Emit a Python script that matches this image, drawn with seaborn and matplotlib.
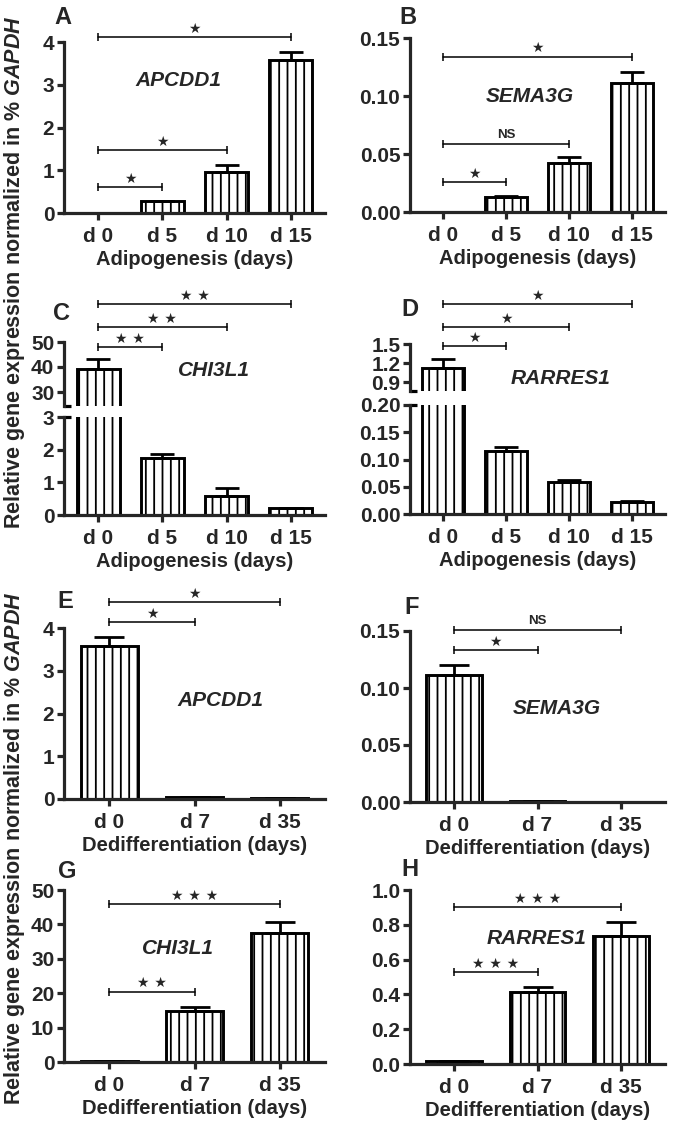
import numpy as np
import matplotlib
matplotlib.use("Agg")
import matplotlib.pyplot as plt
from matplotlib.ticker import FormatStrFormatter
import seaborn as sns

# ---- data ----
adipo_days = ["d 0", "d 5", "d 10", "d 15"]
dediff_days = ["d 0", "d 7", "d 35"]

apcdd1_adipo = [0.0, 0.27, 0.96, 3.58]
apcdd1_adipo_err = [0.0, 0.02, 0.16, 0.19]
sema3g_adipo = [0.0, 0.013, 0.042, 0.111]
sema3g_adipo_err = [0.0, 0.001, 0.005, 0.010]
chi3l1_adipo = [39.2, 1.75, 0.58, 0.20]
chi3l1_adipo_err = [4.0, 0.12, 0.24, 0.02]
rarres1_adipo = [1.12, 0.116, 0.059, 0.022]
rarres1_adipo_err = [0.14, 0.007, 0.003, 0.002]

apcdd1_dediff = [3.57, 0.04, 0.03]
apcdd1_dediff_err = [0.21, 0.0, 0.0]
sema3g_dediff = [0.111, 0.0008, 0.0003]
sema3g_dediff_err = [0.009, 0.0, 0.0]
chi3l1_dediff = [0.3, 14.9, 37.6]
chi3l1_dediff_err = [0.0, 1.1, 3.0]
rarres1_dediff = [0.02, 0.414, 0.736]
rarres1_dediff_err = [0.0, 0.027, 0.08]

# significance brackets: (from, to, height, label)
sig_a = [(0, 1, 0.6, "★"), (0, 2, 1.47, "★"), (0, 3, 4.12, "★")]
sig_b = [(0, 1, 0.026, "★"), (0, 2, 0.059, "NS"), (0, 3, 0.134, "★")]
sig_c = [(0, 1, 48, "★ ★"), (0, 2, 56, "★ ★"), (0, 3, 65.2, "★ ★")]
sig_d = [(0, 1, 1.47, "★"), (0, 2, 1.77, "★"), (0, 3, 2.13, "★")]
sig_e = [(0, 1, 4.14, "★"), (0, 2, 4.61, "★")]
sig_f = [(0, 1, 0.133, "★"), (0, 2, 0.151, "NS")]
sig_g = [(0, 1, 20.4, "★ ★"), (0, 2, 45.8, "★ ★ ★")]
sig_h = [(0, 1, 0.529, "★ ★ ★"), (0, 2, 0.902, "★ ★ ★")]

sns.set_style("ticks")
plt.rcParams["font.family"] = ["Liberation Sans", "DejaVu Sans"]
plt.rcParams["font.weight"] = "bold"
plt.rcParams["axes.labelweight"] = "bold"
plt.rcParams["mathtext.fontset"] = "custom"
plt.rcParams["mathtext.it"] = "Liberation Sans:italic:bold"
plt.rcParams["mathtext.rm"] = "Liberation Sans:bold"
plt.rcParams["hatch.linewidth"] = 1.3
plt.rcParams["axes.linewidth"] = 2.3

W, H = 680, 1127
fig = plt.figure(figsize=(W / 100, H / 100), dpi=100)


def rect(x0, x1, yt, yb):
    return [x0 / W, 1 - yb / H, (x1 - x0) / W, (yb - yt) / H]


def bar_panel(ax, days, vals, errs, capsize):
    sns.barplot(x=days, y=vals, ax=ax, color="white", edgecolor="black",
                linewidth=2.1, width=0.67, hatch="||", errorbar=None, saturation=1)
    ax.errorbar(range(len(days)), vals, yerr=[np.zeros(len(errs)), errs], fmt="none",
                ecolor="black", elinewidth=2.0, capsize=capsize, capthick=2.0)
    ax.set_xlim(-0.53, len(days) - 0.47)
    sns.despine(ax=ax)
    ax.tick_params(axis="both", labelsize=15, width=2.3, length=5)
    ax.tick_params(axis="y", pad=2)
    ax.tick_params(axis="x", pad=5)


def brackets(ax, sig):
    for i, j, y, lab in sig:
        ax.plot([i, j], [y, y], color="black", lw=1.1, clip_on=False)
        ax.plot([i, j], [y, y], ls="none", marker="|", ms=6, mew=1.1,
                color="black", clip_on=False)
        if lab == "NS":
            ax.annotate(lab, xy=((i + j) / 2, y), xytext=(0, 2), textcoords="offset points",
                        ha="center", va="bottom", fontsize=9.5, fontweight="bold",
                        annotation_clip=False)
        else:
            ax.annotate(lab, xy=((i + j) / 2, y), xytext=(0, 1), textcoords="offset points",
                        ha="center", va="bottom", fontsize=10, family="DejaVu Sans",
                        annotation_clip=False)


def break_caps(ax_top, ax_bot):
    ax_top.plot([0, 0.028], [0, 0], transform=ax_top.transAxes, color="black",
                lw=2.3, clip_on=False, solid_capstyle="butt")
    ax_bot.plot([0, 0.028], [1, 1], transform=ax_bot.transAxes, color="black",
                lw=2.3, clip_on=False, solid_capstyle="butt")


def top_part(ax):
    ax.spines["bottom"].set_visible(False)
    ax.tick_params(axis="x", bottom=False, labelbottom=False)
    ax.set_xlabel("")


# ---- A ----
ax = fig.add_axes(rect(64, 325, 42, 213))
bar_panel(ax, adipo_days, apcdd1_adipo, apcdd1_adipo_err, 8.3)
ax.set_ylim(0, 4)
ax.set_yticks([0, 1, 2, 3, 4])
ax.set_xlabel("Adipogenesis (days)", fontsize=14.5, labelpad=3)
brackets(ax, sig_a)

# ---- B ----
ax = fig.add_axes(rect(410, 665, 38, 212))
bar_panel(ax, adipo_days, sema3g_adipo, sema3g_adipo_err, 8.3)
ax.set_ylim(0, 0.15)
ax.set_yticks([0, 0.05, 0.10, 0.15])
ax.yaxis.set_major_formatter(FormatStrFormatter("%.2f"))
ax.set_xlabel("Adipogenesis (days)", fontsize=14.5, labelpad=3)
brackets(ax, sig_b)

# ---- C (broken axis) ----
ax_t = fig.add_axes(rect(64, 325, 342, 406))
bar_panel(ax_t, adipo_days, chi3l1_adipo, chi3l1_adipo_err, 8.3)
ax_t.set_ylim(24.4, 50)
ax_t.set_yticks([30, 40, 50])
top_part(ax_t)
brackets(ax_t, sig_c)
ax_b = fig.add_axes(rect(64, 325, 417, 515))
bar_panel(ax_b, adipo_days, chi3l1_adipo, chi3l1_adipo_err, 8.3)
ax_b.set_ylim(0, 3)
ax_b.set_yticks([0, 1, 2, 3])
ax_b.set_xlabel("Adipogenesis (days)", fontsize=14.5, labelpad=3)
break_caps(ax_t, ax_b)

# ---- D (broken axis) ----
ax_t = fig.add_axes(rect(410, 665, 344, 391))
bar_panel(ax_t, adipo_days, rarres1_adipo, rarres1_adipo_err, 8.3)
ax_t.set_ylim(0.76, 1.5)
ax_t.set_yticks([0.9, 1.2, 1.5])
ax_t.yaxis.set_major_formatter(FormatStrFormatter("%.1f"))
top_part(ax_t)
brackets(ax_t, sig_d)
ax_b = fig.add_axes(rect(410, 665, 405, 514))
bar_panel(ax_b, adipo_days, rarres1_adipo, rarres1_adipo_err, 8.3)
ax_b.set_ylim(0, 0.2)
ax_b.set_yticks([0, 0.05, 0.10, 0.15, 0.20])
ax_b.yaxis.set_major_formatter(FormatStrFormatter("%.2f"))
ax_b.set_xlabel("Adipogenesis (days)", fontsize=14.5, labelpad=3)
break_caps(ax_t, ax_b)

# ---- E ----
ax = fig.add_axes(rect(64, 325, 628, 799))
bar_panel(ax, dediff_days, apcdd1_dediff, apcdd1_dediff_err, 11)
ax.set_ylim(0, 4)
ax.set_yticks([0, 1, 2, 3, 4])
ax.set_xlabel("Dedifferentiation (days)", fontsize=14.5, labelpad=3)
brackets(ax, sig_e)

# ---- F ----
ax = fig.add_axes(rect(410, 665, 631, 802))
bar_panel(ax, dediff_days, sema3g_dediff, sema3g_dediff_err, 11)
ax.set_ylim(0, 0.15)
ax.set_yticks([0, 0.05, 0.10, 0.15])
ax.yaxis.set_major_formatter(FormatStrFormatter("%.2f"))
ax.set_xlabel("Dedifferentiation (days)", fontsize=14.5, labelpad=3)
brackets(ax, sig_f)

# ---- G ----
ax = fig.add_axes(rect(64, 325, 890, 1062))
bar_panel(ax, dediff_days, chi3l1_dediff, chi3l1_dediff_err, 11)
ax.set_ylim(0, 50)
ax.set_yticks([0, 10, 20, 30, 40, 50])
ax.set_xlabel("Dedifferentiation (days)", fontsize=14.5, labelpad=3)
brackets(ax, sig_g)

# ---- H ----
ax = fig.add_axes(rect(410, 665, 890, 1064))
bar_panel(ax, dediff_days, rarres1_dediff, rarres1_dediff_err, 11)
ax.set_ylim(0, 1.0)
ax.set_yticks([0, 0.2, 0.4, 0.6, 0.8, 1.0])
ax.yaxis.set_major_formatter(FormatStrFormatter("%.1f"))
ax.set_xlabel("Dedifferentiation (days)", fontsize=14.5, labelpad=3)
brackets(ax, sig_h)

# panel letters
for lab, x, y in [("A", 63, 18), ("B", 408, 17), ("C", 62, 313), ("D", 410, 310),
                  ("E", 65, 602), ("F", 412, 607), ("G", 67, 872), ("H", 410, 870)]:
    fig.text(x / W, 1 - y / H, lab, fontsize=17, fontweight="bold", ha="center", va="center")

# gene names
for lab, x, y in [("APCDD1", 178, 80), ("SEMA3G", 530, 96), ("CHI3L1", 214, 370),
                  ("RARRES1", 561, 379), ("APCDD1", 220, 700), ("SEMA3G", 557, 708),
                  ("CHI3L1", 178, 949), ("RARRES1", 537, 939)]:
    fig.text(x / W, 1 - y / H, lab, fontsize=15, fontweight="bold", fontstyle="italic",
             ha="center", va="center")

ylab = "Relative gene expression normalized in % $\\mathit{GAPDH}$"
fig.text(15 / W, 1 - 272 / H, ylab, rotation=90, fontsize=15.5, fontweight="bold",
         ha="center", va="center")
fig.text(15 / W, 1 - 848 / H, ylab, rotation=90, fontsize=15.5, fontweight="bold",
         ha="center", va="center")

fig.savefig("out.png", dpi=100)
